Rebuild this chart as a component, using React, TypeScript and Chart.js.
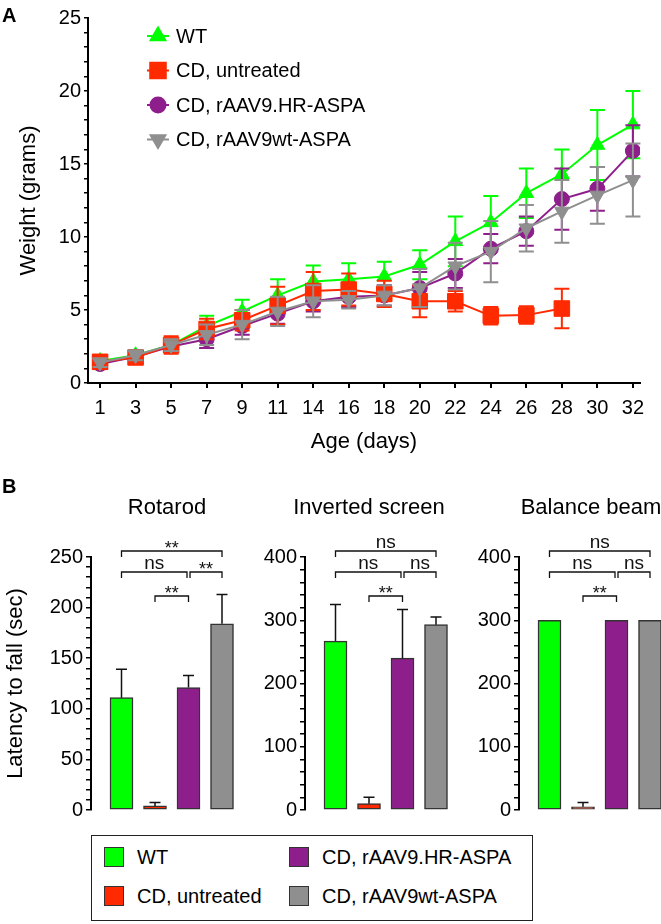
import React, { useEffect, useRef } from 'react';
import { Chart, registerables } from 'chart.js';
import { drawPoint } from 'chart.js/helpers';

Chart.register(...registerables);

const FONT = '"Liberation Sans", Arial, Helvetica, sans-serif';

// ---------- Panel A data ----------
const days = ['1', '3', '5', '7', '9', '11', '14', '16', '18', '20', '22', '24', '26', '28', '30', '32'];
const seriesNames = ['WT', 'CD, untreated', 'CD, rAAV9.HR-ASPA', 'CD, rAAV9wt-ASPA'];
const seriesColors = ['#00ff00', '#ff2a00', '#8e1e8c', '#8f8f8f'];

const wtMean = [1.5, 1.9, 2.6, 3.9, 4.9, 6.0, 6.95, 7.1, 7.3, 8.1, 9.7, 11.0, 13.0, 14.3, 16.3, 17.7];
const wtErr = [0.3, 0.3, 0.4, 0.7, 0.8, 1.1, 1.1, 1.1, 1.0, 1.0, 1.7, 1.8, 1.7, 1.7, 2.4, 2.3];
const cdMean = [1.45, 1.75, 2.6, 3.7, 4.3, 5.3, 6.3, 6.4, 6.1, 5.6, 5.6, 4.6, 4.65, 5.1, null, null];
const cdErr = [0.45, 0.45, 0.6, 0.7, 0.7, 1.3, 1.3, 1.1, 0.9, 1.1, 0.7, 0.6, 0.6, 1.35, null, null];
const hrMean = [1.3, 1.8, 2.5, 3.0, 3.9, 4.75, 5.6, 5.9, 6.0, 6.5, 7.5, 9.2, 10.4, 12.6, 13.3, 15.9];
const hrErr = [0.3, 0.3, 0.35, 0.6, 0.6, 0.7, 0.7, 0.7, 0.7, 1.1, 1.0, 1.0, 1.0, 2.1, 1.5, 1.75];
const wtaMean = [1.4, 1.9, 2.6, 3.3, 4.0, 4.9, 5.6, 5.7, 6.0, 6.5, 8.0, 9.0, 10.6, 11.75, 12.85, 13.9];
const wtaErr = [0.3, 0.35, 0.4, 0.7, 1.0, 1.0, 1.1, 0.6, 0.7, 1.3, 1.6, 2.1, 1.6, 2.15, 1.95, 2.5];
const weightTicks = [0, 5, 10, 15, 20, 25];

// ---------- Panel B data ----------
const rotarodMean = [111, 4, 121, 184];
const rotarodErr = [28, 3.5, 12, 29];
const invertedMean = [267, 10, 240, 293];
const invertedErr = [58, 10, 77, 12];
const balanceMean = [300, 5, 300, 300];
const balanceErr = [0, 7, 0, 0];
const rotarodTicks = [0, 50, 100, 150, 200, 250];
const screenTicks = [0, 100, 200, 300, 400];
type Sig = [number, number, number, string];
const rotarodSig: Sig[] = [[0, 3, 0, '**'], [0, 2, 1, 'ns'], [2, 3, 1, '**'], [1, 2, 2, '**']];
const invertedSig: Sig[] = [[0, 3, 0, 'ns'], [0, 2, 1, 'ns'], [2, 3, 1, 'ns'], [1, 2, 2, '**']];
const balanceSig: Sig[] = [[0, 3, 0, 'ns'], [0, 2, 1, 'ns'], [2, 3, 1, 'ns'], [1, 2, 2, '**']];

const pointStyles: any[] = [
  { pointStyle: 'triangle', radius: 8.5, rotation: 0 },
  { pointStyle: 'rect', radius: 11, rotation: 0 },
  { pointStyle: 'circle', radius: 7.5, rotation: 0 },
  { pointStyle: 'triangle', radius: 8.5, rotation: 180 },
];

function range(min: number, max: number, step: number) {
  const out: number[] = [];
  for (let v = min; v <= max + 1e-9; v += step) out.push(Math.round(v * 1000) / 1000);
  return out;
}

const lineErrorBars = {
  id: 'lineErrorBars',
  beforeDatasetDraw(chart: any, args: any) {
    const ds: any = chart.data.datasets[args.index];
    const errs = ds.errors;
    if (!errs) return;
    const { ctx } = chart;
    const y = chart.scales.y;
    ctx.save();
    ctx.strokeStyle = ds.borderColor;
    ctx.lineWidth = 2;
    args.meta.data.forEach((pt: any, i: number) => {
      const v = ds.data[i].y;
      const e = errs[i];
      if (v == null || e == null) return;
      const yt = y.getPixelForValue(v + e);
      const yb = y.getPixelForValue(v - e);
      ctx.beginPath();
      ctx.moveTo(pt.x, yt); ctx.lineTo(pt.x, yb);
      ctx.moveTo(pt.x - 7.5, yt); ctx.lineTo(pt.x + 7.5, yt);
      ctx.moveTo(pt.x - 7.5, yb); ctx.lineTo(pt.x + 7.5, yb);
      ctx.stroke();
    });
    ctx.restore();
  },
};

const lineLegend = {
  id: 'lineLegend',
  afterDraw(chart: any) {
    const { ctx } = chart;
    ctx.save();
    seriesNames.forEach((name, i) => {
      const yy = 36 + i * 34.5;
      const col = seriesColors[i];
      ctx.strokeStyle = col;
      ctx.fillStyle = col;
      ctx.lineWidth = 2;
      ctx.beginPath();
      ctx.moveTo(147, yy); ctx.lineTo(169, yy);
      ctx.stroke();
      drawPoint(ctx, { ...pointStyles[i], borderWidth: 1 }, 158, yy);
      ctx.fillStyle = '#000';
      ctx.font = `20px ${FONT}`;
      ctx.textBaseline = 'middle';
      ctx.textAlign = 'left';
      ctx.fillText(name, 176, yy + 1);
    });
    ctx.restore();
  },
};

function WeightChart() {
  const ref = useRef<HTMLCanvasElement>(null);
  useEffect(() => {
    const means = [wtMean, cdMean, hrMean, wtaMean];
    const errs = [wtErr, cdErr, hrErr, wtaErr];
    const orders = [3, 1, 2, 0];
    const chart = new Chart(ref.current as HTMLCanvasElement, {
      type: 'line',
      data: {
        datasets: means.map((m, i) => ({
          label: seriesNames[i],
          data: m.map((v, j) => ({ x: j, y: v })),
          errors: errs[i],
          borderColor: seriesColors[i],
          backgroundColor: seriesColors[i],
          pointBackgroundColor: seriesColors[i],
          pointBorderColor: seriesColors[i],
          pointBorderWidth: 1,
          pointStyle: pointStyles[i].pointStyle,
          pointRadius: pointStyles[i].radius,
          pointRotation: pointStyles[i].rotation,
          borderWidth: 2,
          order: orders[i],
          tension: 0,
        })) as any,
      },
      options: {
        responsive: false,
        animation: false,
        layout: { padding: { top: 18, right: 21, left: 0, bottom: 0 } },
        plugins: { legend: { display: false }, tooltip: { enabled: false } },
        scales: {
          x: {
            type: 'linear',
            min: -0.34,
            max: 15.2,
            offset: false,
            afterBuildTicks: (s: any) => { s.ticks = days.map((_, i) => ({ value: i })); },
            afterFit: (s: any) => { s.height = 79; },
            ticks: {
              callback: (v: any) => days[v] ?? '',
              color: '#000',
              font: { family: FONT, size: 20 },
              padding: 8,
              maxRotation: 0,
              autoSkip: false,
            },
            grid: { drawOnChartArea: false, drawTicks: true, tickLength: 5, color: '#000', lineWidth: 2 },
            border: { display: true, color: '#000', width: 2 },
            title: { display: true, text: 'Age (days)', color: '#000', font: { family: FONT, size: 22 }, padding: { top: 0, bottom: 7 } },
          },
          y: {
            type: 'linear',
            min: 0,
            max: 25,
            afterBuildTicks: (s: any) => { s.ticks = range(0, 25, 1).map((v) => ({ value: v })); },
            afterFit: (s: any) => { s.width = 88; },
            ticks: {
              callback: (v: any) => (weightTicks.includes(v) ? String(v) : ''),
              color: '#000',
              font: { family: FONT, size: 20 },
              padding: 3,
              autoSkip: false,
            },
            grid: { drawOnChartArea: false, drawTicks: true, tickLength: 4, color: '#000', lineWidth: 1.5 },
            border: { display: true, color: '#000', width: 2 },
            title: { display: true, text: 'Weight (grams)', color: '#000', font: { family: FONT, size: 22 }, padding: { top: 16, bottom: 0 } },
          },
        },
      } as any,
      plugins: [lineErrorBars, lineLegend],
    });
    return () => chart.destroy();
  }, []);
  return <canvas ref={ref} width={661} height={462} style={{ position: 'absolute', left: 0, top: 0, width: 661, height: 462 }} />;
}

const barErrorBars = {
  id: 'barErrorBars',
  afterDatasetsDraw(chart: any) {
    const { ctx } = chart;
    const y = chart.scales.y;
    chart.data.datasets.forEach((ds: any, di: number) => {
      const meta = chart.getDatasetMeta(di);
      ctx.save();
      ctx.strokeStyle = '#111';
      ctx.lineWidth = 1.5;
      meta.data.forEach((bar: any, i: number) => {
        const e = ds.errors[i];
        if (!e) return;
        const v = ds.data[i].y;
        const yt = y.getPixelForValue(v + e);
        ctx.beginPath();
        ctx.moveTo(bar.x, bar.y); ctx.lineTo(bar.x, yt);
        ctx.moveTo(bar.x - 5.5, yt); ctx.lineTo(bar.x + 5.5, yt);
        ctx.stroke();
      });
      ctx.restore();
    });
  },
};

const sigBrackets = {
  id: 'sigBrackets',
  afterDraw(chart: any) {
    const sig: Sig[] = chart.config.options.sig;
    const { ctx, chartArea } = chart;
    const x = chart.scales.x;
    const levelY = [chartArea.top - 6, chartArea.top + 15, chartArea.top + 39];
    ctx.save();
    ctx.strokeStyle = '#111';
    ctx.fillStyle = '#111';
    ctx.lineWidth = 1.3;
    sig.forEach(([a, b, lvl, label]) => {
      const sharedL = sig.some((s) => s[2] === lvl && s[1] === a);
      const sharedR = sig.some((s) => s[2] === lvl && s[0] === b);
      const xa = x.getPixelForValue(a) + (sharedL ? 1.5 : 0);
      const xb = x.getPixelForValue(b) - (sharedR ? 1.5 : 0);
      const yy = levelY[lvl];
      ctx.beginPath();
      ctx.moveTo(xa, yy + 6); ctx.lineTo(xa, yy); ctx.lineTo(xb, yy); ctx.lineTo(xb, yy + 6);
      ctx.stroke();
      ctx.textAlign = 'center';
      ctx.textBaseline = 'alphabetic';
      if (label === '**') {
        ctx.font = `18px ${FONT}`;
        ctx.fillText(label, (xa + xb) / 2, yy + 3);
      } else {
        ctx.font = `19px ${FONT}`;
        ctx.fillText(label, (xa + xb) / 2, yy - 3.5);
      }
    });
    ctx.restore();
  },
};

function BarPanel(props: {
  means: number[]; errs: number[]; ticks: number[]; max: number; step: number; sig: Sig[];
  left: number; width: number; axisX: number; padRight: number; yTitle?: string;
}) {
  const ref = useRef<HTMLCanvasElement>(null);
  const { means, errs, ticks, max, step, sig, left, width, axisX, padRight, yTitle } = props;
  useEffect(() => {
    const pxPerUnit = 33.5;
    const yW = axisX - left;
    const plotW = width - padRight - yW;
    const xMin = -30.5 / pxPerUnit;
    const xMax = xMin + plotW / pxPerUnit;
    const chart = new Chart(ref.current as HTMLCanvasElement, {
      type: 'bar',
      data: {
        datasets: [{
          data: means.map((v, i) => ({ x: i, y: v })),
          errors: errs,
          backgroundColor: seriesColors,
          borderColor: '#333',
          borderWidth: 1.5,
          borderSkipped: false,
          barThickness: 23,
        }] as any,
      },
      options: {
        sig,
        responsive: false,
        animation: false,
        layout: { padding: { top: 77, bottom: 20, left: 0, right: padRight } },
        plugins: { legend: { display: false }, tooltip: { enabled: false } },
        scales: {
          x: {
            type: 'linear', display: false, min: xMin, max: xMax,
            offset: false, bounds: 'data', grid: { offset: false },
            ticks: { includeBounds: true },
          },
          y: {
            type: 'linear',
            min: 0,
            max,
            afterBuildTicks: (s: any) => { s.ticks = range(0, max, step).map((v) => ({ value: v })); },
            afterFit: (s: any) => { s.width = yW; },
            ticks: {
              callback: (v: any) => (ticks.includes(v) ? String(v) : ''),
              color: '#000',
              font: { family: FONT, size: 20 },
              padding: 3,
              autoSkip: false,
            },
            grid: { drawOnChartArea: false, drawTicks: true, tickLength: 5, color: '#000', lineWidth: 1.5 },
            border: { display: true, color: '#000', width: 2 },
            title: {
              display: !!yTitle, text: yTitle || '', color: '#000',
              font: { family: FONT, size: 22 }, padding: { top: 3, bottom: 0 },
            },
          },
        },
      } as any,
      plugins: [barErrorBars, sigBrackets],
    });
    return () => chart.destroy();
  }, []);
  return <canvas ref={ref} width={width} height={350} style={{ position: 'absolute', left, top: 480, width, height: 350 }} />;
}

function Txt(props: { x: number; baseline: number; size: number; bold?: boolean; center?: boolean; children: any }) {
  const { x, baseline, size, bold, center, children } = props;
  const style: any = {
    position: 'absolute',
    top: baseline - 0.846 * size,
    left: x,
    fontFamily: FONT,
    fontSize: size,
    lineHeight: `${size}px`,
    fontWeight: bold ? 700 : 400,
    whiteSpace: 'nowrap',
    color: '#000',
  };
  if (center) style.transform = 'translateX(-50%)';
  return <div style={style}>{children}</div>;
}

function Swatch(props: { x: number; y: number; color: string }) {
  return (
    <div style={{
      position: 'absolute', left: props.x, top: props.y, width: 20, height: 20,
      background: props.color, border: '1px solid #333', boxSizing: 'border-box',
    }} />
  );
}

export default function App() {
  const legendPos = [[104, 847], [104, 886], [289, 847], [289, 886]];
  return (
    <div style={{ position: 'absolute', left: 0, top: 0, width: 661, height: 924, overflow: 'hidden', background: '#fff' }}>
      <WeightChart />
      <BarPanel means={rotarodMean} errs={rotarodErr} ticks={rotarodTicks} max={250} step={10} sig={rotarodSig}
        left={0} width={245} axisX={91} padRight={5} yTitle="Latency to fall (sec)" />
      <BarPanel means={invertedMean} errs={invertedErr} ticks={screenTicks} max={400} step={20} sig={invertedSig}
        left={246} width={210} axisX={305} padRight={4} />
      <BarPanel means={balanceMean} errs={balanceErr} ticks={screenTicks} max={400} step={20} sig={balanceSig}
        left={460} width={201} axisX={519} padRight={0} />
      <Txt x={2} baseline={22} size={20} bold>A</Txt>
      <Txt x={2} baseline={493} size={20} bold>B</Txt>
      <Txt x={167} baseline={515} size={22} center>Rotarod</Txt>
      <Txt x={369} baseline={515} size={22} center>Inverted screen</Txt>
      <Txt x={591} baseline={515} size={22} center>Balance beam</Txt>
      <div style={{ position: 'absolute', left: 91, top: 835, width: 442, height: 86, border: '1.5px solid #222', boxSizing: 'border-box' }} />
      {seriesNames.map((name, i) => (
        <React.Fragment key={name}>
          <Swatch x={legendPos[i][0]} y={legendPos[i][1]} color={seriesColors[i]} />
          <Txt x={legendPos[i][0] + 33} baseline={legendPos[i][1] + 17} size={20}>{name}</Txt>
        </React.Fragment>
      ))}
    </div>
  );
}
